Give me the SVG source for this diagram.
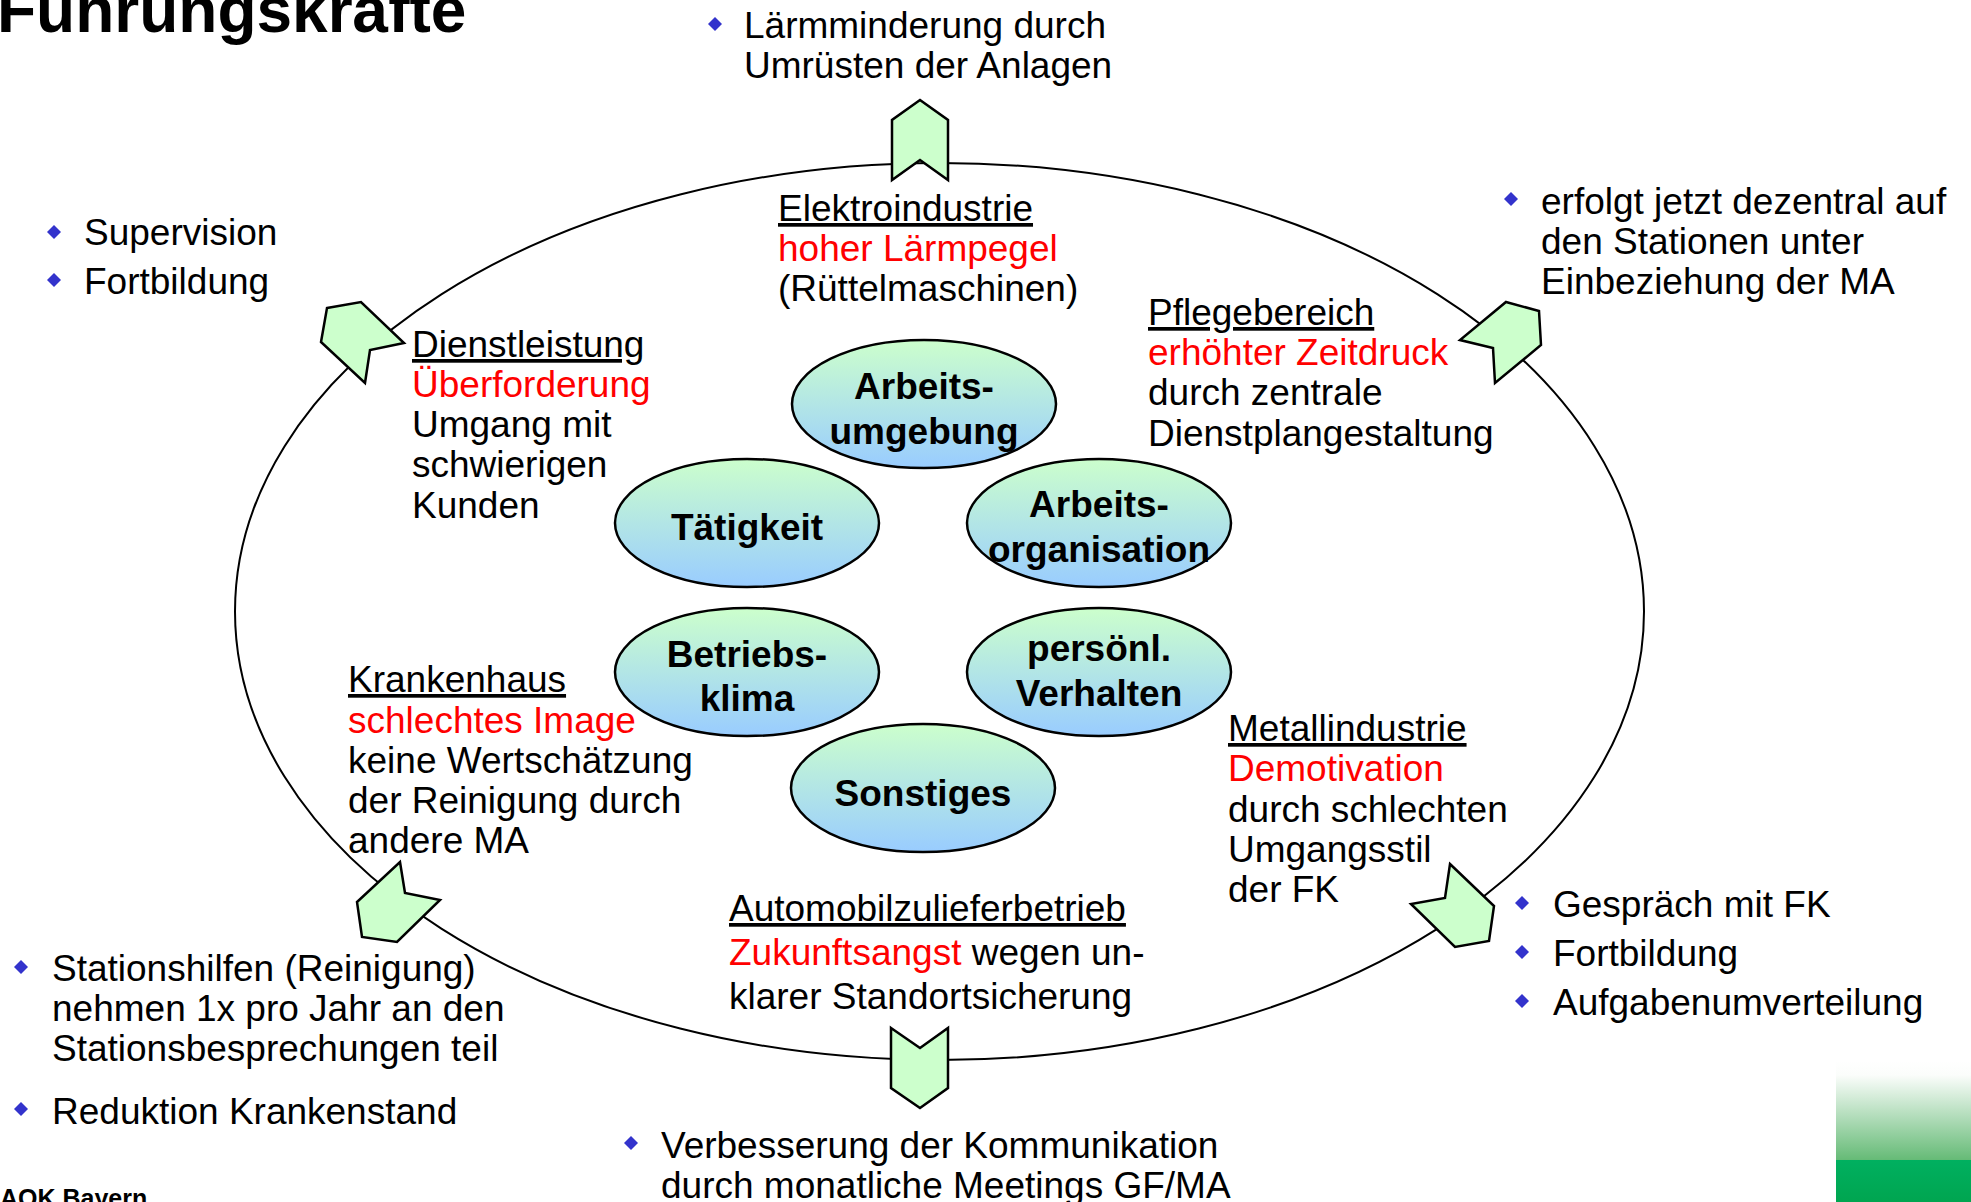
<svg xmlns="http://www.w3.org/2000/svg" width="1971" height="1202" viewBox="0 0 1971 1202">
<defs>
<linearGradient id="nodeGrad" x1="0" y1="0" x2="0" y2="1">
<stop offset="0" stop-color="#CCFFCC"/>
<stop offset="1" stop-color="#99CCFF"/>
</linearGradient>
<linearGradient id="cornerGrad" x1="0" y1="0" x2="0" y2="1">
<stop offset="0" stop-color="#FFFFFF"/>
<stop offset="0.1" stop-color="#FBFDFB"/>
<stop offset="0.70" stop-color="#66BB77"/>
<stop offset="0.70" stop-color="#00B060"/>
<stop offset="1" stop-color="#00A550"/>
</linearGradient>
<polygon id="bullet" points="0,-7 7,0 0,7 -7,0" fill="#3333CC"/>
</defs>
<style>
.t{font-family:"Liberation Sans",Arial,sans-serif;font-size:37px;fill:#000}
.r{fill:#FF0000}
.u{text-decoration:underline}
.n{font-family:"Liberation Sans",Arial,sans-serif;font-size:37px;font-weight:bold;fill:#000;text-anchor:middle}
.node{fill:url(#nodeGrad);stroke:#000;stroke-width:2.5}
.arr{fill:#CCFFCC;stroke:#000;stroke-width:2.5;stroke-linejoin:miter}
</style>
<rect width="1971" height="1202" fill="#FFFFFF"/>
<text x="-3" y="32" style="font-family:'Liberation Sans',Arial,sans-serif;font-size:64px;font-weight:bold">Führungskräfte</text>
<text x="0" y="1207" style="font-family:'Liberation Sans',Arial,sans-serif;font-size:25px;font-weight:bold">AOK Bayern</text>
<rect x="1836" y="1061" width="135" height="141" fill="url(#cornerGrad)"/>

<g id="connectors">
<ellipse cx="939.5" cy="611.5" rx="704.5" ry="448.5" fill="none" stroke="#000" stroke-width="2"/>
<polygon class="arr" points="892,180 892,120 920,100 948,120 948,180 920,160"/>
<polygon class="arr" points="891,1028 920,1048 948,1028 948,1088 920,1108 891,1088"/>
<polygon class="arr" points="327,308 361,302 404,343 370,350 365,383 321,342"/>
<polygon class="arr" points="1506,302 1539,311 1541,345 1495,383 1493,348 1460,340"/>
<polygon class="arr" points="1450,864 1494,906 1489,941 1455,947 1411,904 1445,898"/>
<polygon class="arr" points="400,862 405,893 440,900 397,942 362,937 357,902"/>
</g>

<g id="node-arbeitsumgebung">
<ellipse class="node" cx="924" cy="404" rx="132" ry="64"/>
<text class="n" x="924" y="399">Arbeits-</text>
<text class="n" x="924" y="444">umgebung</text>
</g>
<g id="node-taetigkeit">
<ellipse class="node" cx="747" cy="523" rx="132" ry="64"/>
<text class="n" x="747" y="540">Tätigkeit</text>
</g>
<g id="node-arbeitsorganisation">
<ellipse class="node" cx="1099" cy="523" rx="132" ry="64"/>
<text class="n" x="1099" y="517">Arbeits-</text>
<text class="n" x="1099" y="562">organisation</text>
</g>
<g id="node-betriebsklima">
<ellipse class="node" cx="747" cy="672" rx="132" ry="64"/>
<text class="n" x="747" y="667">Betriebs-</text>
<text class="n" x="747" y="711">klima</text>
</g>
<g id="node-verhalten">
<ellipse class="node" cx="1099" cy="672" rx="132" ry="64"/>
<text class="n" x="1099" y="661">persönl.</text>
<text class="n" x="1099" y="706">Verhalten</text>
</g>
<g id="node-sonstiges">
<ellipse class="node" cx="923" cy="788" rx="132" ry="64"/>
<text class="n" x="923" y="806">Sonstiges</text>
</g>

<g id="label-elektro">
<text class="t u" x="778" y="221">Elektroindustrie</text>
<text class="t r" x="778" y="261">hoher Lärmpegel</text>
<text class="t" x="778" y="301">(Rüttelmaschinen)</text>
</g>
<g id="label-pflege">
<text class="t u" x="1148" y="325">Pflegebereich</text>
<text class="t r" x="1148" y="365">erhöhter Zeitdruck</text>
<text class="t" x="1148" y="405">durch zentrale</text>
<text class="t" x="1148" y="446">Dienstplangestaltung</text>
</g>
<g id="label-dienst">
<text class="t u" x="412" y="357">Dienstleistung</text>
<text class="t r" x="412" y="397">Überforderung</text>
<text class="t" x="412" y="437">Umgang mit</text>
<text class="t" x="412" y="477">schwierigen</text>
<text class="t" x="412" y="518">Kunden</text>
</g>
<g id="label-kranken">
<text class="t u" x="348" y="692">Krankenhaus</text>
<text class="t r" x="348" y="733">schlechtes Image</text>
<text class="t" x="348" y="773">keine Wertschätzung</text>
<text class="t" x="348" y="813">der Reinigung durch</text>
<text class="t" x="348" y="853">andere MA</text>
</g>
<g id="label-metall">
<text class="t u" x="1228" y="741">Metallindustrie</text>
<text class="t r" x="1228" y="781">Demotivation</text>
<text class="t" x="1228" y="822">durch schlechten</text>
<text class="t" x="1228" y="862">Umgangsstil</text>
<text class="t" x="1228" y="902">der FK</text>
</g>
<g id="label-auto">
<text class="t u" x="729" y="921">Automobilzulieferbetrieb</text>
<text class="t" x="729" y="965"><tspan class="r">Zukunftsangst</tspan> wegen un-</text>
<text class="t" x="729" y="1009">klarer Standortsicherung</text>
</g>

<g id="measures-top">
<use href="#bullet" x="715" y="24"/>
<text class="t" x="744" y="38">Lärmminderung durch</text>
<text class="t" x="744" y="78">Umrüsten der Anlagen</text>
</g>
<g id="measures-topleft">
<use href="#bullet" x="54" y="232"/>
<text class="t" x="84" y="245">Supervision</text>
<use href="#bullet" x="54" y="280"/>
<text class="t" x="84" y="294">Fortbildung</text>
</g>
<g id="measures-topright">
<use href="#bullet" x="1511" y="199"/>
<text class="t" x="1541" y="214">erfolgt jetzt dezentral auf</text>
<text class="t" x="1541" y="254">den Stationen unter</text>
<text class="t" x="1541" y="294">Einbeziehung der MA</text>
</g>
<g id="measures-bottomright">
<use href="#bullet" x="1522" y="903"/>
<text class="t" x="1553" y="917">Gespräch mit FK</text>
<use href="#bullet" x="1522" y="952"/>
<text class="t" x="1553" y="966">Fortbildung</text>
<use href="#bullet" x="1522" y="1001"/>
<text class="t" x="1553" y="1015">Aufgabenumverteilung</text>
</g>
<g id="measures-bottomleft">
<use href="#bullet" x="21" y="967"/>
<text class="t" x="52" y="981">Stationshilfen (Reinigung)</text>
<text class="t" x="52" y="1021">nehmen 1x pro Jahr an den</text>
<text class="t" x="52" y="1061">Stationsbesprechungen teil</text>
<use href="#bullet" x="21" y="1109"/>
<text class="t" x="52" y="1124">Reduktion Krankenstand</text>
</g>
<g id="measures-bottom">
<use href="#bullet" x="631" y="1143"/>
<text class="t" x="661" y="1158">Verbesserung der Kommunikation</text>
<text class="t" x="661" y="1198">durch monatliche Meetings GF/MA</text>
</g>
</svg>
